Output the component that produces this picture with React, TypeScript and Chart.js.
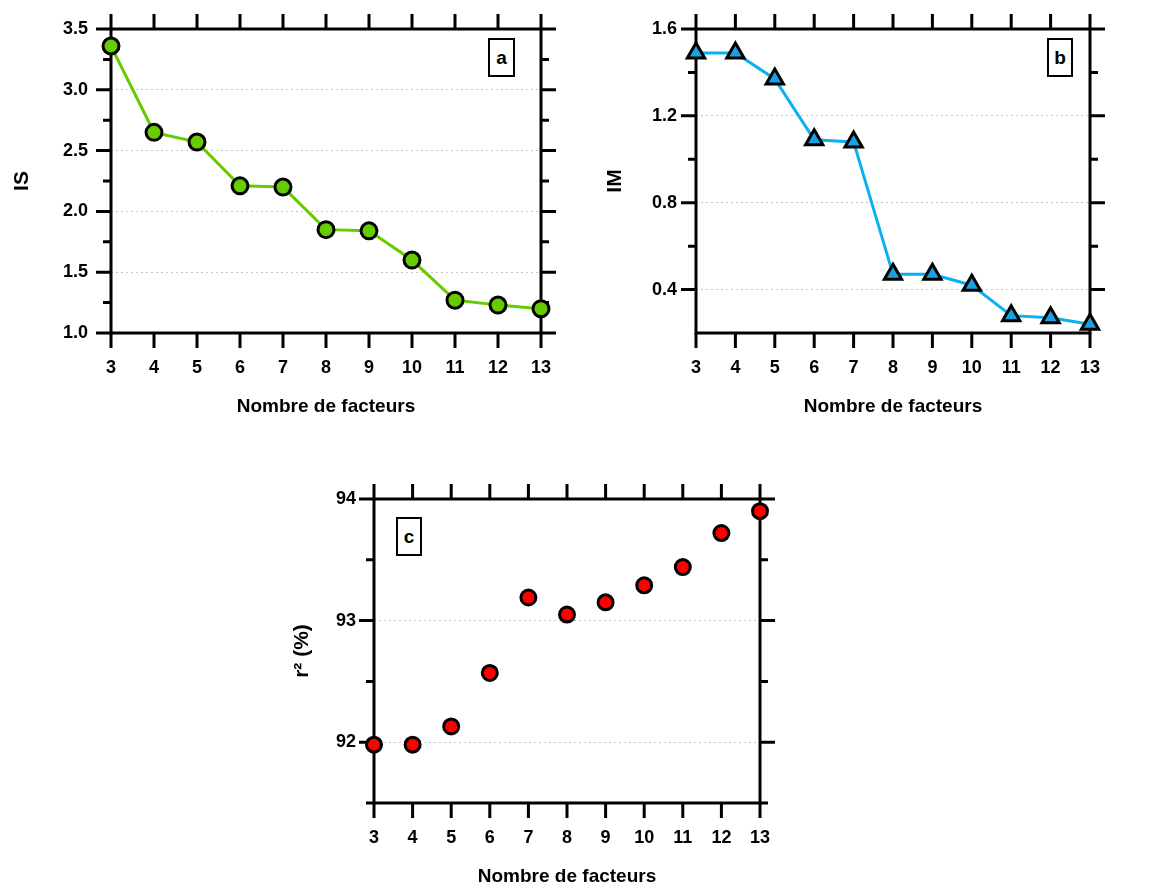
import React, { useEffect, useRef } from "react";
import { Chart, registerables } from "chart.js";

Chart.register(...registerables);

// ---------- data ----------
const FACTORS = [3, 4, 5, 6, 7, 8, 9, 10, 11, 12, 13];
const IS_VALUES = [3.36, 2.65, 2.57, 2.21, 2.2, 1.85, 1.84, 1.6, 1.27, 1.23, 1.2];
const IM_VALUES = [1.49, 1.49, 1.37, 1.09, 1.08, 0.47, 0.47, 0.42, 0.28, 0.27, 0.24];
const R2_VALUES = [91.98, 91.98, 92.13, 92.57, 93.19, 93.05, 93.15, 93.29, 93.44, 93.72, 93.9];

const IS_MAJOR = [1.0, 1.5, 2.0, 2.5, 3.0, 3.5];
const IS_MINOR = [1.25, 1.75, 2.25, 2.75, 3.25];
const IM_MAJOR = [0.4, 0.8, 1.2, 1.6];
const IM_MINOR = [0.6, 1.0, 1.4];
const R2_MAJOR = [92, 93, 94];
const R2_MINOR = [91.5, 92.5, 93.5];

const X_TITLE = "Nombre de facteurs";

// ---------- styles ----------
const FAMILY = "'Liberation Sans', Arial, Helvetica, sans-serif";
const TICK_FONT = { family: FAMILY, size: 18, weight: "bold" as const };
const X_TITLE_FONT = { family: FAMILY, size: 19, weight: "bold" as const };
const Y_TITLE_FONT = { family: FAMILY, size: 21, weight: "bold" as const };

type Panel = {
  key: string;
  left: number;
  top: number;
  width: number;
  height: number;
  area: { l: number; t: number; r: number; b: number };
  values: number[];
  yMin: number;
  yMax: number;
  major: number[];
  minor: number[];
  decimals: number;
  yTitle: string;
  yTickPad: number;
  yTitlePad: number;
  xTitlePad: number;
  showLine: boolean;
  lineColor: string;
  fill: string;
  pointStyle: string;
  pointRadius: number;
  tag: string;
  tagBox: { x: number; y: number; w: number; h: number };
};

const PANELS: Panel[] = [
  {
    key: "a",
    left: 0,
    top: 0,
    width: 575,
    height: 430,
    area: { l: 111, t: 29, r: 541, b: 333 },
    values: IS_VALUES,
    yMin: 1.0,
    yMax: 3.5,
    major: IS_MAJOR,
    minor: IS_MINOR,
    decimals: 1,
    yTitle: "IS",
    yTickPad: 23,
    yTitlePad: 10,
    xTitlePad: 11.5,
    showLine: true,
    lineColor: "#66cc00",
    fill: "#66cc00",
    pointStyle: "circle",
    pointRadius: 8,
    tag: "a",
    tagBox: { x: 488, y: 38, w: 27, h: 39 },
  },
  {
    key: "b",
    left: 580,
    top: 0,
    width: 571,
    height: 430,
    area: { l: 116, t: 29, r: 510, b: 333 },
    values: IM_VALUES,
    yMin: 0.2,
    yMax: 1.6,
    major: IM_MAJOR,
    minor: IM_MINOR,
    decimals: 1,
    yTitle: "IM",
    yTickPad: 19,
    yTitlePad: 22.5,
    xTitlePad: 11.5,
    showLine: true,
    lineColor: "#09b1f2",
    fill: "#1ba1e2",
    pointStyle: "triangle",
    pointRadius: 10,
    tag: "b",
    tagBox: { x: 1047, y: 38, w: 26, h: 39 },
  },
  {
    key: "c",
    left: 270,
    top: 480,
    width: 580,
    height: 406,
    area: { l: 104, t: 19, r: 490, b: 323 },
    values: R2_VALUES,
    yMin: 91.5,
    yMax: 94,
    major: R2_MAJOR,
    minor: R2_MINOR,
    decimals: 0,
    yTitle: "r² (%)",
    yTickPad: 18,
    yTitlePad: 19.5,
    xTitlePad: -2,
    showLine: false,
    lineColor: "#ff0000",
    fill: "#ff0000",
    pointStyle: "circle",
    pointRadius: 7.5,
    tag: "c",
    tagBox: { x: 396, y: 517, w: 26, h: 39 },
  },
];

// Frame + tick marks drawn from the chart's own scales
const framePlugin = {
  id: "frame",
  beforeDatasetsDraw(chart: any, _args: any, opts: any) {
    const { ctx, chartArea } = chart;
    const { left, top, right, bottom } = chartArea;
    const xs = chart.scales.x;
    const ys = chart.scales.y;
    const MAJ = 15;
    const MIN = 8;
    ctx.save();
    ctx.strokeStyle = "#000";
    ctx.lineWidth = 3;
    ctx.lineCap = "butt";
    ctx.beginPath();
    for (const v of opts.xTicks as number[]) {
      const px = xs.getPixelForValue(v);
      ctx.moveTo(px, bottom);
      ctx.lineTo(px, bottom + MAJ);
      ctx.moveTo(px, top);
      ctx.lineTo(px, top - MAJ);
    }
    for (const v of opts.major as number[]) {
      const py = ys.getPixelForValue(v);
      ctx.moveTo(left, py);
      ctx.lineTo(left - MAJ, py);
      ctx.moveTo(right, py);
      ctx.lineTo(right + MAJ, py);
    }
    for (const v of opts.minor as number[]) {
      const py = ys.getPixelForValue(v);
      ctx.moveTo(left, py);
      ctx.lineTo(left - MIN, py);
      ctx.moveTo(right, py);
      ctx.lineTo(right + MIN, py);
    }
    ctx.stroke();
    ctx.strokeRect(left, top, right - left, bottom - top);
    ctx.restore();
  },
};

function buildConfig(p: Panel): any {
  const interior = p.major.filter((v) => v > p.yMin + 1e-9 && v < p.yMax - 1e-9);
  return {
    type: "line",
    data: {
      datasets: [
        {
          data: FACTORS.map((x, i) => ({ x, y: p.values[i] })),
          showLine: p.showLine,
          borderColor: p.lineColor,
          borderWidth: 3,
          tension: 0,
          pointStyle: p.pointStyle,
          pointRadius: p.pointRadius,
          pointBackgroundColor: p.fill,
          pointBorderColor: "#000000",
          pointBorderWidth: 3,
          clip: false,
        },
      ],
    },
    options: {
      responsive: false,
      animation: false,
      events: [],
      layout: {
        padding: { left: 0, top: p.area.t, right: p.width - p.area.r, bottom: 0 },
      },
      plugins: {
        legend: { display: false },
        tooltip: { enabled: false },
        frame: { xTicks: FACTORS, major: p.major, minor: p.minor },
      },
      scales: {
        x: {
          type: "linear",
          position: "bottom",
          min: FACTORS[0],
          max: FACTORS[FACTORS.length - 1],
          afterBuildTicks: (s: any) => {
            s.ticks = FACTORS.map((v) => ({ value: v }));
          },
          afterFit: (s: any) => {
            s.height = p.height - p.area.b;
            s.paddingLeft = 0;
            s.paddingRight = 0;
          },
          grid: { display: false, drawTicks: false },
          border: { display: false },
          ticks: {
            color: "#000",
            font: TICK_FONT,
            padding: 24,
            maxRotation: 0,
            autoSkip: false,
            callback: (v: any) => String(v),
          },
          title: {
            display: true,
            text: X_TITLE,
            color: "#000",
            font: X_TITLE_FONT,
            padding: { top: 0, bottom: p.xTitlePad },
          },
        },
        y: {
          type: "linear",
          position: "left",
          min: p.yMin,
          max: p.yMax,
          afterBuildTicks: (s: any) => {
            s.ticks = p.major.map((v) => ({ value: v }));
          },
          afterFit: (s: any) => {
            s.width = p.area.l;
            s.paddingTop = 0;
            s.paddingBottom = 0;
          },
          grid: {
            drawTicks: false,
            lineWidth: 1,
            color: (ctx: any) => {
              const v = ctx.tick ? ctx.tick.value : NaN;
              return interior.some((t) => Math.abs(t - v) < 1e-6) ? "#c4c4c4" : "rgba(0,0,0,0)";
            },
          },
          border: { display: false, dash: [2, 3] },
          ticks: {
            color: "#000",
            font: TICK_FONT,
            padding: p.yTickPad,
            autoSkip: false,
            callback: (v: any) => Number(v).toFixed(p.decimals),
          },
          title: {
            display: true,
            text: p.yTitle,
            color: "#000",
            font: Y_TITLE_FONT,
            padding: { top: p.yTitlePad, bottom: 0 },
          },
        },
      },
    },
    plugins: [framePlugin],
  };
}

function PanelChart({ p }: { p: Panel }) {
  const ref = useRef<HTMLCanvasElement | null>(null);
  useEffect(() => {
    if (!ref.current) return;
    const chart = new Chart(ref.current, buildConfig(p));
    return () => chart.destroy();
  }, [p]);
  return (
    <canvas
      ref={ref}
      width={p.width}
      height={p.height}
      style={{
        position: "absolute",
        left: p.left,
        top: p.top,
        width: p.width,
        height: p.height,
        display: "block",
      }}
    />
  );
}

export default function App() {
  return (
    <div
      style={{
        position: "absolute",
        left: 0,
        top: 0,
        width: 1151,
        height: 886,
        background: "#ffffff",
        overflow: "hidden",
      }}
    >
      {PANELS.map((p) => (
        <PanelChart key={p.key} p={p} />
      ))}
      {PANELS.map((p) => (
        <div
          key={"tag-" + p.key}
          style={{
            position: "absolute",
            left: p.tagBox.x,
            top: p.tagBox.y,
            width: p.tagBox.w,
            height: p.tagBox.h,
            boxSizing: "border-box",
            border: "2px solid #000",
            background: "#fff",
            fontFamily: FAMILY,
            fontWeight: "bold",
            fontSize: 19,
            lineHeight: p.tagBox.h - 4 + "px",
            textAlign: "center",
            color: "#000",
          }}
        >
          {p.tag}
        </div>
      ))}
    </div>
  );
}
